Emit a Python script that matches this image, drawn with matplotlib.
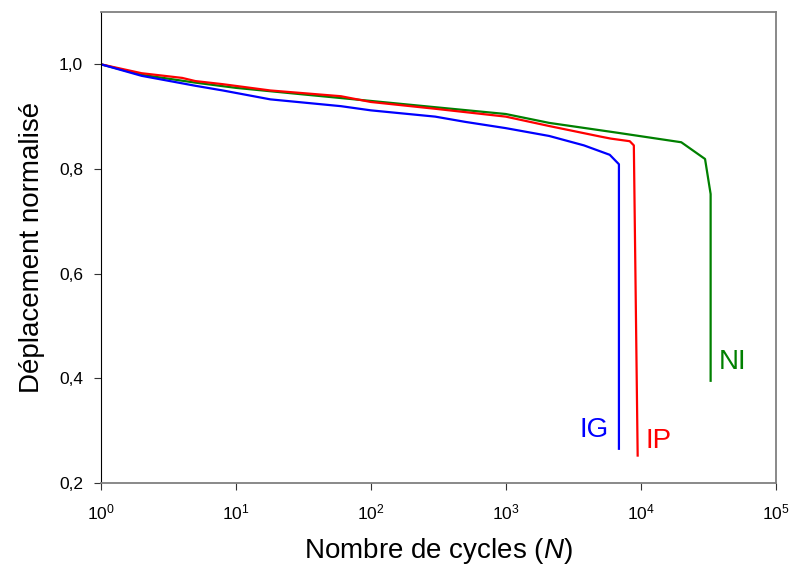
import numpy as np
import matplotlib
matplotlib.use("Agg")
import matplotlib.pyplot as plt

plt.rcParams['font.family'] = ['Liberation Sans', 'DejaVu Sans']
plt.rcParams['mathtext.fontset'] = 'custom'
plt.rcParams['mathtext.rm'] = 'Liberation Sans'
plt.rcParams['mathtext.it'] = 'Liberation Sans:italic'

# IG
n_ig = [1, 2, 5, 8, 18, 60, 100, 300, 500, 1000, 2100, 3800, 5900, 6900, 6900]
d_ig = [1.0, 0.978, 0.959, 0.950, 0.933, 0.920, 0.912, 0.900, 0.890, 0.878,
        0.863, 0.845, 0.827, 0.809, 0.265]
# IP
n_ip = [1, 2, 4, 5, 8, 18, 60, 100, 300, 1000, 2100, 5000, 6000, 8300, 8900, 9500]
d_ip = [1.0, 0.983, 0.974, 0.968, 0.962, 0.950, 0.939, 0.928, 0.915, 0.900,
        0.882, 0.862, 0.858, 0.853, 0.845, 0.252]
# NI
n_ni = [1, 2, 5, 10, 30, 100, 300, 1000, 2100, 6800, 20000, 30000, 33000, 33000]
d_ni = [1.0, 0.980, 0.965, 0.955, 0.943, 0.930, 0.918, 0.905, 0.888, 0.869,
        0.851, 0.819, 0.752, 0.395]

y_ticks = [0.2, 0.4, 0.6, 0.8, 1.0]
x_ticks = [1, 10, 100, 1000, 10000, 100000]

fig = plt.figure(figsize=(7.89, 5.72), dpi=100)
ax = fig.add_axes([0.128, 0.156, 0.855, 0.823])

ax.plot(n_ni, d_ni, color='#008000', lw=1.6)
ax.plot(n_ip, d_ip, color='#FF0000', lw=1.6)
ax.plot(n_ig, d_ig, color='#0000FF', lw=1.6)

ax.text(38000, 0.43, 'NI', color='#008000', fontsize=20, va='center')
ax.text(5800, 0.30, 'IG', color='#0000FF', fontsize=20, va='center', ha='right')
ax.text(10800, 0.28, 'IP', color='#FF0000', fontsize=20, va='center')

ax.set_xscale('log')
ax.set_xlim(1, 1e5)
ax.set_ylim(0.2, 1.1)
ax.set_xticks(x_ticks)
ax.set_xticklabels([r'$\mathregular{10^{%d}}$' % i for i in range(6)])
ax.xaxis.set_minor_locator(matplotlib.ticker.NullLocator())
ax.set_yticks(y_ticks)
ax.set_yticklabels([('%.1f' % v).replace('.', ',') for v in y_ticks])
ax.tick_params(direction='out', length=5, labelsize=12.5, color='#333333')
ax.tick_params(axis='x', pad=9)
ax.tick_params(axis='y', pad=8)

for s in ['top', 'right', 'bottom']:
    ax.spines[s].set_color('#808080')
    ax.spines[s].set_linewidth(1.3)
ax.spines['left'].set_color('black')

ax.set_xlabel(r'Nombre de cycles ($\mathit{N}$)', fontsize=20, labelpad=10)
ax.set_ylabel('Déplacement normalisé', fontsize=20, labelpad=10)

fig.savefig('out.png', dpi=100)
